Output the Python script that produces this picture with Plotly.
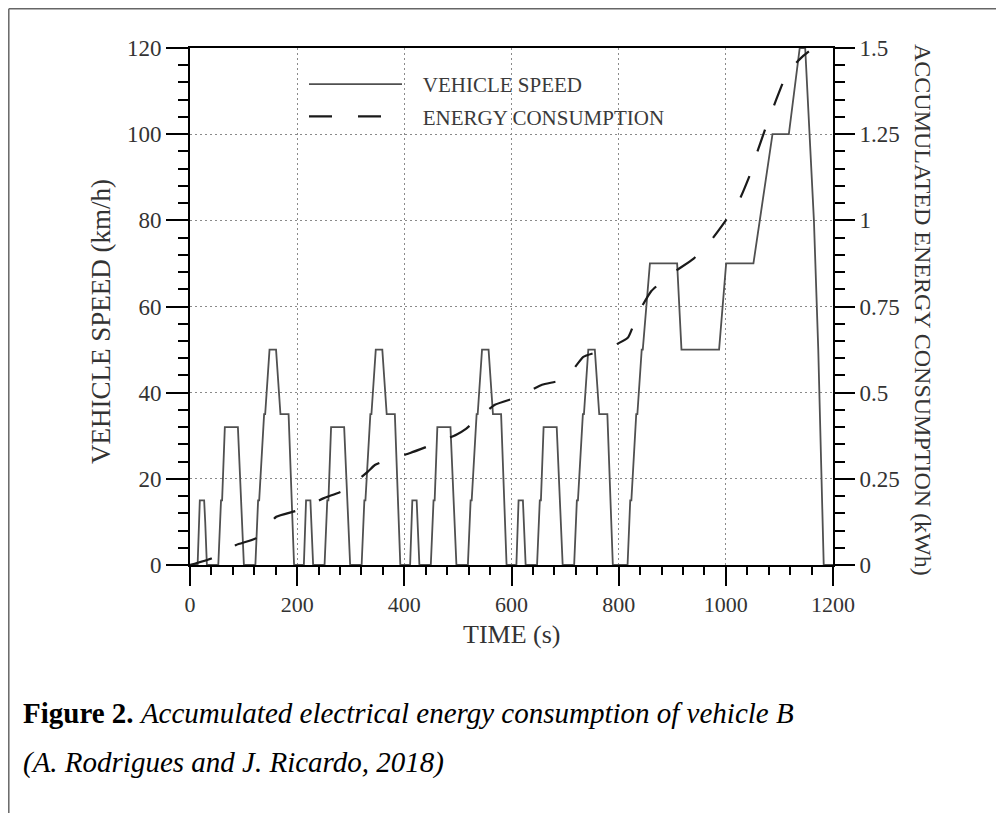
import plotly.graph_objects as go

# ---------------- data ----------------
time_s = [
    0, 14.2, 18.3, 26.4, 28.4, 31.5, 52.8, 57.9, 59.9, 65.0, 89.4, 97.6, 100.6,
    122.0, 127.1, 129.1, 138.3, 140.3, 148.4, 160.6, 168.8, 184.0, 191.1, 194.2,
    212.5, 216.6, 224.7, 226.7, 229.8, 251.1, 256.2, 258.3, 263.3, 287.7, 295.9, 298.9,
    320.3, 325.4, 327.4, 336.6, 338.6, 346.7, 358.9, 367.1, 382.3, 389.4, 392.5,
    410.8, 414.9, 423.0, 425.0, 428.1, 449.4, 454.5, 456.6, 461.6, 486.1, 494.2, 497.2,
    518.6, 523.7, 525.7, 534.9, 536.9, 545.0, 557.2, 565.4, 580.6, 587.7, 590.8,
    609.1, 613.2, 621.3, 623.3, 626.4, 647.7, 652.8, 654.9, 659.9, 684.4, 692.5, 695.5,
    716.9, 722.0, 724.0, 733.2, 735.2, 743.3, 755.5, 763.7, 778.9, 786.1, 789.1,
    816.6, 821.6, 823.7, 832.8, 834.9, 843.0, 845.0, 858.3, 909.1, 917.2, 987.4,
    1000.6, 1051.5, 1087.1, 1117.6, 1137.9, 1148.1, 1164.4, 1172.5, 1182.7, 1200,
]
speed_kmh = [
    0, 0, 15, 15, 10, 0, 0, 15, 15, 32, 32, 10, 0,
    0, 15, 15, 35, 35, 50, 50, 35, 35, 10, 0,
    0, 15, 15, 10, 0, 0, 15, 15, 32, 32, 10, 0,
    0, 15, 15, 35, 35, 50, 50, 35, 35, 10, 0,
    0, 15, 15, 10, 0, 0, 15, 15, 32, 32, 10, 0,
    0, 15, 15, 35, 35, 50, 50, 35, 35, 10, 0,
    0, 15, 15, 10, 0, 0, 15, 15, 32, 32, 10, 0,
    0, 15, 15, 35, 35, 50, 50, 35, 35, 10, 0,
    0, 15, 15, 35, 35, 50, 50, 70, 70, 50, 50,
    70, 70, 100, 100, 120, 120, 80, 50, 0, 0,
]

energy_time_s = [
    0, 40, 86, 124, 161, 200, 250, 290, 332, 345, 364, 411, 452, 497, 515, 531,
    569, 611, 657, 701, 734, 775, 817, 836, 861, 897, 940, 970, 1000, 1025,
    1046, 1059, 1077, 1094, 1115, 1130, 1143, 1155,
]
energy_kwh = [
    0, 0.019, 0.058, 0.078, 0.140, 0.158, 0.194, 0.218, 0.271, 0.290, 0.302,
    0.325, 0.349, 0.378, 0.395, 0.417, 0.465, 0.487, 0.523, 0.540, 0.604, 0.625,
    0.659, 0.730, 0.795, 0.843, 0.889, 0.937, 1.000, 1.058, 1.136, 1.200, 1.280,
    1.350, 1.430, 1.455, 1.475, 1.490,
]

x_tick_vals = [0, 200, 400, 600, 800, 1000, 1200]
speed_tick_vals = [0, 20, 40, 60, 80, 100, 120]
energy_tick_vals = [0, 0.25, 0.5, 0.75, 1, 1.25, 1.5]
energy_tick_text = ["0", "0.25", "0.5", "0.75", "1", "1.25", "1.5"]

# ---------------- layout helpers ----------------
FONT = "Liberation Serif"
W, H = 1004, 813
OFF = 8                      # page offset of the figure inside the browser window
L, R, T, B = 190, 833, 48, 565   # plot area in window pixels


def px_x(p):
    return (p - L) / (R - L)


def px_y(p):
    return (B - p) / (B - T)


fig = go.Figure()
fig.add_trace(go.Scatter(
    x=time_s, y=speed_kmh, mode="lines", name="\u00a0\u00a0\u00a0VEHICLE SPEED",
    legendgroup="a", line=dict(color="#505050", width=1.8),
))
fig.add_trace(go.Scatter(
    x=energy_time_s, y=energy_kwh, yaxis="y2", mode="lines",
    name="\u00a0\u00a0\u00a0ENERGY CONSUMPTION", legendgroup="b",
    line=dict(color="#1a1a1a", width=2.2, dash="23px,26px", shape="spline", smoothing=0.4),
))

tick_font = dict(family=FONT, size=23, color="#333333")
x_tick_font = dict(family=FONT, size=22, color="#333333")
grid_common = dict(showgrid=True, gridcolor="#8a8a8a", gridwidth=1.1, griddash="2px,3px")

fig.update_layout(
    width=W, height=H,
    margin=dict(l=L - OFF, r=W - (R - OFF), t=T - OFF, b=H - (B - OFF), pad=0),
    paper_bgcolor="white", plot_bgcolor="white",
    showlegend=True,
    legend=dict(
        x=px_x(304), y=px_y(64), xanchor="left", yanchor="top",
        bgcolor="rgba(0,0,0,0)", borderwidth=0,
        font=dict(family=FONT, size=21, color="#3a3a3a"),
        itemwidth=93, traceorder="grouped", tracegroupgap=2,
    ),
    xaxis=dict(
        range=[0, 1200], tickmode="array", tickvals=x_tick_vals,
        ticks="outside", ticklen=19, tickwidth=2, tickcolor="black",
        showline=True, linecolor="black", linewidth=2, mirror=True,
        zeroline=False, tickfont=x_tick_font, **grid_common,
        minor=dict(tickmode="linear", tick0=0, dtick=40, ticks="outside",
                   ticklen=8, tickwidth=1.5, tickcolor="black", showgrid=False),
    ),
    yaxis=dict(
        range=[0, 120], tickmode="array", tickvals=speed_tick_vals,
        ticks="outside", ticklen=22, tickwidth=2, tickcolor="black",
        showline=True, linecolor="black", linewidth=2, mirror=False,
        zeroline=False, tickfont=tick_font, **grid_common,
        minor=dict(tickmode="linear", tick0=0, dtick=4, ticks="outside",
                   ticklen=10, tickwidth=1.5, tickcolor="black", showgrid=False),
    ),
    yaxis2=dict(
        range=[0, 1.5], overlaying="y", side="right",
        tickmode="array", tickvals=energy_tick_vals, ticktext=energy_tick_text,
        ticks="outside", ticklen=20, tickwidth=2, tickcolor="black",
        showline=True, linecolor="black", linewidth=2,
        showgrid=False, zeroline=False, tickfont=tick_font,
        minor=dict(tickmode="linear", tick0=0, dtick=0.05, ticks="outside",
                   ticklen=10, tickwidth=1.5, tickcolor="black", showgrid=False),
    ),
)

annotations = [
    dict(text="VEHICLE SPEED (km/h)", x=px_x(101), y=px_y(322), textangle=-90,
         font=dict(family=FONT, size=27, color="#333333")),
    dict(text="ACCUMULATED ENERGY CONSUMPTION (kWh)", x=px_x(923), y=px_y(310),
         textangle=90, font=dict(family=FONT, size=24, color="#333333")),
    dict(text="TIME (s)", x=px_x(511), y=px_y(634),
         font=dict(family=FONT, size=26, color="#333333")),
    dict(text="<b>Figure 2.</b> <i>Accumulated electrical energy consumption of vehicle B</i>",
         x=px_x(21), y=px_y(713), xanchor="left",
         font=dict(family=FONT, size=29, color="black")),
    dict(text="<i>(A. Rodrigues and J. Ricardo, 2018)</i>",
         x=px_x(21), y=px_y(762), xanchor="left",
         font=dict(family=FONT, size=29, color="black")),
]
for a in annotations:
    a.update(xref="paper", yref="paper", showarrow=False)
    a.setdefault("xanchor", "center")
    a.setdefault("yanchor", "middle")
fig.update_layout(annotations=annotations)

# page frame lines (top and left edges of the figure box)
fig.add_shape(type="line", xref="paper", yref="paper",
              x0=px_x(8.8), x1=px_x(1004 + OFF), y0=px_y(8.8), y1=px_y(8.8),
              line=dict(color="#666666", width=1.5))
fig.add_shape(type="line", xref="paper", yref="paper",
              x0=px_x(8.8), x1=px_x(8.8), y0=px_y(8.8), y1=px_y(813 + OFF),
              line=dict(color="#666666", width=1.5))

fig.write_html("out.html")
